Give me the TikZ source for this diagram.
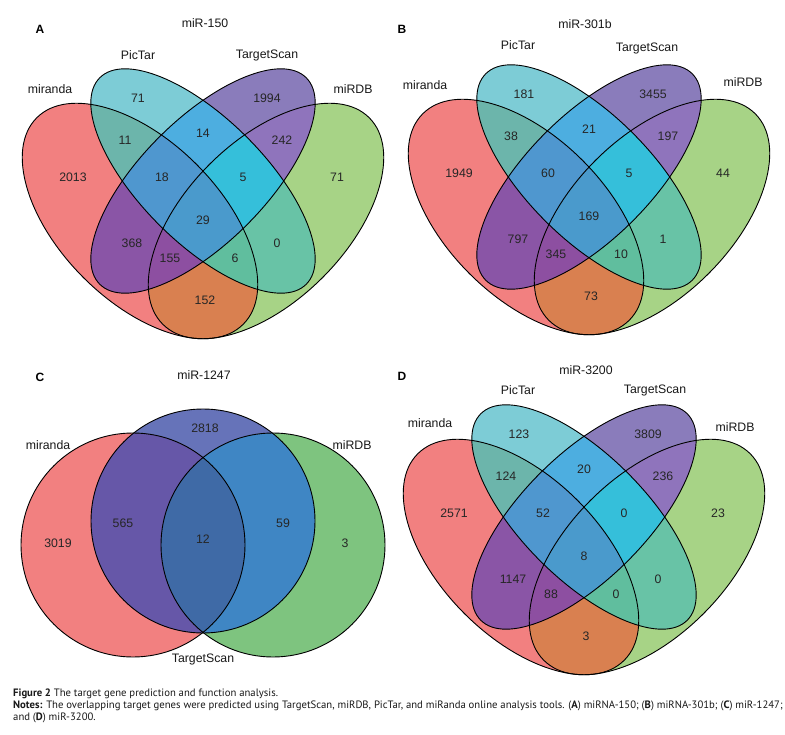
\documentclass[tikz,border=0pt]{standalone}
\usepackage{fontspec}
\setmainfont{Liberation Sans}
\newfontfamily\capfont{PT Sans}
\usepackage{tikz}

% region colours
\definecolor{cM}{HTML}{F28080}
\definecolor{cP}{HTML}{7DCCD6}
\definecolor{cT}{HTML}{8A7CBB}
\definecolor{cD}{HTML}{A7D386}
\definecolor{cMP}{HTML}{6CB5AB}
\definecolor{cPT}{HTML}{4DAEE0}
\definecolor{cTD}{HTML}{8F74BC}
\definecolor{cMT}{HTML}{8A55A6}
\definecolor{cPD}{HTML}{68C3A6}
\definecolor{cMD}{HTML}{D98050}
\definecolor{cMPT}{HTML}{4F97CF}
\definecolor{cPTD}{HTML}{35BFDA}
\definecolor{cMTD}{HTML}{8D4FA1}
\definecolor{cMPD}{HTML}{60BE9E}
\definecolor{cAll}{HTML}{4A9ACC}
\definecolor{tM}{HTML}{F28080}
\definecolor{tT}{HTML}{6673B9}
\definecolor{tD}{HTML}{7EC47F}
\definecolor{tMT}{HTML}{6657A8}
\definecolor{tTD}{HTML}{3F86C4}
\definecolor{tAll}{HTML}{3F6AA6}

% the four ellipses of one panel
\newcommand{\setM}[1]{\path[#1,shift={(140,-221)},rotate=-45] (0,0) ellipse [x radius=146pt,y radius=80pt];}
\newcommand{\setP}[1]{\path[#1,shift={(203,-181)},rotate=-45] (0,0) ellipse [x radius=146pt,y radius=62pt];}
\newcommand{\setT}[1]{\path[#1,shift={(203,-181)},rotate=45] (0,0) ellipse [x radius=146pt,y radius=62pt];}
\newcommand{\setD}[1]{\path[#1,shift={(266,-221)},rotate=45] (0,0) ellipse [x radius=146pt,y radius=80pt];}

% the three circles of panel C
\newcommand{\cirM}[1]{\path[#1] (133,-545) circle [radius=112pt];}
\newcommand{\cirT}[1]{\path[#1] (203,-521) circle [radius=112pt];}
\newcommand{\cirD}[1]{\path[#1] (273,-545) circle [radius=112pt];}

\newcommand{\quadvenn}[3]{%
  \begin{scope}[shift={#1}]
    %Single sets
    \setM{fill=cM} \setP{fill=cP} \setT{fill=cT} \setD{fill=cD}
    %Pairs
    \begin{scope} \setM{clip} \setP{fill=cMP} \end{scope}
    \begin{scope} \setM{clip} \setT{fill=cMT} \end{scope}
    \begin{scope} \setM{clip} \setD{fill=cMD} \end{scope}
    \begin{scope} \setP{clip} \setT{fill=cPT} \end{scope}
    \begin{scope} \setP{clip} \setD{fill=cPD} \end{scope}
    \begin{scope} \setT{clip} \setD{fill=cTD} \end{scope}
    %Triples
    \begin{scope} \setM{clip} \setP{clip} \setT{fill=cMPT} \end{scope}
    \begin{scope} \setM{clip} \setP{clip} \setD{fill=cMPD} \end{scope}
    \begin{scope} \setM{clip} \setT{clip} \setD{fill=cMTD} \end{scope}
    \begin{scope} \setP{clip} \setT{clip} \setD{fill=cPTD} \end{scope}
    %All four
    \begin{scope} \setM{clip} \setP{clip} \setT{clip} \setD{fill=cAll} \end{scope}
    %Outlines
    \setM{edge} \setP{edge} \setT{edge} \setD{edge}
    %Count anchors
    \coordinate (q1) at (73,-177);
    \coordinate (q2) at (138,-98);
    \coordinate (q3) at (267,-98);
    \coordinate (q4) at (337,-177);
    \coordinate (q5) at (125,-140);
    \coordinate (q6) at (203,-133);
    \coordinate (q7) at (282,-140);
    \coordinate (q8) at (132,-243);
    \coordinate (q9) at (277,-243);
    \coordinate (q10) at (205,-300);
    \coordinate (q11) at (162,-177);
    \coordinate (q12) at (243,-177);
    \coordinate (q13) at (170,-258);
    \coordinate (q14) at (235,-258);
    \coordinate (q15) at (203,-220);
    \foreach \num [count=\k] in {#3}
      \node[count] (#2-\k) at (q\k) {\num};
  \end{scope}}

\begin{document}
\begin{tikzpicture}[x=1pt,y=1pt]
  \tikzstyle{edge}=[draw=black,line width=0.9pt];
  \tikzstyle{count}=[font=\fontsize{12.3}{14}\selectfont,text=black!85,inner sep=0pt];
  \tikzstyle{setname}=[font=\fontsize{12.3}{14}\selectfont,text=black!90,inner sep=0pt];
  \tikzstyle{panel}=[font=\fontsize{12}{14}\selectfont\bfseries,inner sep=0pt];
  \tikzstyle{caption}=[font=\capfont\fontsize{10.7}{12}\selectfont,text=black!90,inner sep=0pt,anchor=west];

  \useasboundingbox[fill=white] (0,0) rectangle (785,-735);

  %Panel A
  \quadvenn{(0,0)}{a}{2013,71,1994,71,11,14,242,368,0,152,18,5,155,6,29}
  \node[panel] (labA) at (40,-29) {A};
  \node[setname] (titleA) at (205,-23) {miR-150};
  \node[setname] (picA) at (138,-55) {PicTar};
  \node[setname] (tsA) at (267,-55) {TargetScan};
  \node[setname] (mirA) at (50,-89) {miranda};
  \node[setname] (dbA) at (353,-89) {miRDB};

  %Panel B
  \quadvenn{(386,4)}{b}{1949,181,3455,44,38,21,197,797,1,73,60,5,345,10,169}
  \node[panel] (labB) at (402,-29) {B};
  \node[setname] (titleB) at (585,-24) {miR-301b};
  \node[setname] (picB) at (518,-45) {PicTar};
  \node[setname] (tsB) at (647,-48) {TargetScan};
  \node[setname] (mirB) at (425,-85) {miranda};
  \node[setname] (dbB) at (743,-82) {miRDB};

  %Panel C
  \cirM{fill=tM} \cirT{fill=tT} \cirD{fill=tD}
  \begin{scope} \cirM{clip} \cirT{fill=tMT} \end{scope}
  \begin{scope} \cirT{clip} \cirD{fill=tTD} \end{scope}
  \begin{scope} \cirM{clip} \cirD{clip} \cirT{fill=tAll} \end{scope}
  \cirM{edge} \cirT{edge} \cirD{edge}
  \node[panel] (labC) at (40,-377) {C};
  \node[setname] (titleC) at (204,-375) {miR-1247};
  \node[setname] (mirC) at (48,-445) {miranda};
  \node[setname] (dbC) at (352,-445) {miRDB};
  \node[setname] (tsC) at (203,-659) {TargetScan};
  \node[count] (c-1) at (58,-543) {3019};
  \node[count] (c-2) at (205,-428) {2818};
  \node[count] (c-3) at (345,-543) {3};
  \node[count] (c-4) at (123,-523) {565};
  \node[count] (c-5) at (283,-523) {59};
  \node[count] (c-6) at (203,-539) {12};

  %Panel D
  \quadvenn{(381,-336)}{d}{2571,123,3809,23,124,20,236,1147,0,3,52,0,88,0,8}
  \node[panel] (labD) at (402,-376) {D};
  \node[setname] (titleD) at (586,-370) {miR-3200};
  \node[setname] (picD) at (518,-390) {PicTar};
  \node[setname] (tsD) at (655,-390) {TargetScan};
  \node[setname] (mirD) at (430,-423) {miranda};
  \node[setname] (dbD) at (735,-427) {miRDB};

  %Caption
  \node[caption] (cap1) at (13,-694) {\textbf{Figure 2} The target gene prediction and function analysis.};
  \node[caption] (cap2) at (13,-706) {\textbf{Notes:} The overlapping target genes were predicted using TargetScan, miRDB, PicTar, and miRanda online analysis tools. (\textbf{A}) miRNA-150; (\textbf{B}) miRNA-301b; (\textbf{C}) miR-1247;};
  \node[caption] (cap3) at (13,-718) {and (\textbf{D}) miR-3200.};
\end{tikzpicture}
\end{document}
